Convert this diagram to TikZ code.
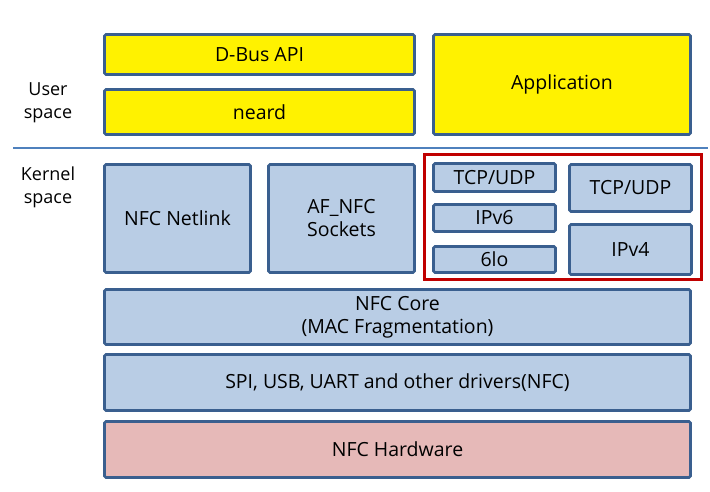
\documentclass[tikz,border=0pt]{standalone}
\usepackage{fontspec}
\setmainfont{Open Sans}
\begin{document}
\begin{tikzpicture}[x=1pt,y=-1pt,
  box/.style={draw=boxborder,line width=2.6pt,rounded corners=1.5pt,fill=boxblue,align=center,inner sep=0pt,font=\fontsize{19.5}{23}\selectfont},
  yel/.style={box,fill=yellow},
  hw/.style={box,fill=hwpink},
  lbl/.style={align=center,font=\fontsize{18}{23}\selectfont}]
\definecolor{boxborder}{HTML}{3A5F8F}
\definecolor{boxblue}{HTML}{B9CDE5}
\definecolor{hwpink}{HTML}{E6B9B8}
\definecolor{sepblue}{HTML}{4F81BD}
\definecolor{redframe}{HTML}{C00000}
\useasboundingbox (0,0) rectangle (710,491);
\fill[white] (0,0) rectangle (710,491);
% user space
\node[yel,minimum width=310pt,minimum height=40pt] (dbus) at (259.5,54.5) {D-Bus API};
\node[yel,minimum width=310pt,minimum height=45pt] (neard) at (259.5,112) {neard};
\node[yel,minimum width=257pt,minimum height=100pt] (app) at (562,84.5) {Application};
\node[lbl] (user) at (48,103) {User\\space};
% separator
\coordinate (sepL) at (13,148);
\coordinate (sepR) at (708,148);
\draw[sepblue,line width=1.5pt] (sepL) -- (sepR);
\node[lbl] (kernel) at (48,187) {Kernel\\space};
% kernel
\node[box,minimum width=146pt,minimum height=108pt] (netlink) at (177.5,218.5) {NFC Netlink};
\node[box,minimum width=146pt,minimum height=108pt] (afnfc) at (341.5,218.5) {AF\_NFC\\Sockets};
\node[draw=redframe,line width=2.8pt,minimum width=277pt,minimum height=125pt] (red) at (563,217) {};
\node[box,minimum width=122pt,minimum height=28pt] (tcp1) at (494.5,177.5) {TCP/UDP};
\node[box,minimum width=122pt,minimum height=27pt] (ipv6) at (494.5,218) {IPv6};
\node[box,minimum width=122pt,minimum height=26pt] (sixlo) at (494.5,259.5) {6lo};
\node[box,minimum width=122pt,minimum height=47pt] (tcp2) at (630.5,188) {TCP/UDP};
\node[box,minimum width=122pt,minimum height=50pt] (ipv4) at (630.5,249.5) {IPv4};
\node[box,minimum width=586pt,minimum height=55pt] (core) at (397.5,317) {NFC Core\\(MAC Fragmentation)};
\node[box,minimum width=586pt,minimum height=56pt] (drv) at (397.5,382.5) {SPI, USB, UART and other drivers(NFC)};
\node[hw,minimum width=586pt,minimum height=56pt] (hwn) at (397.5,449.5) {NFC Hardware};
\end{tikzpicture}
\end{document}
